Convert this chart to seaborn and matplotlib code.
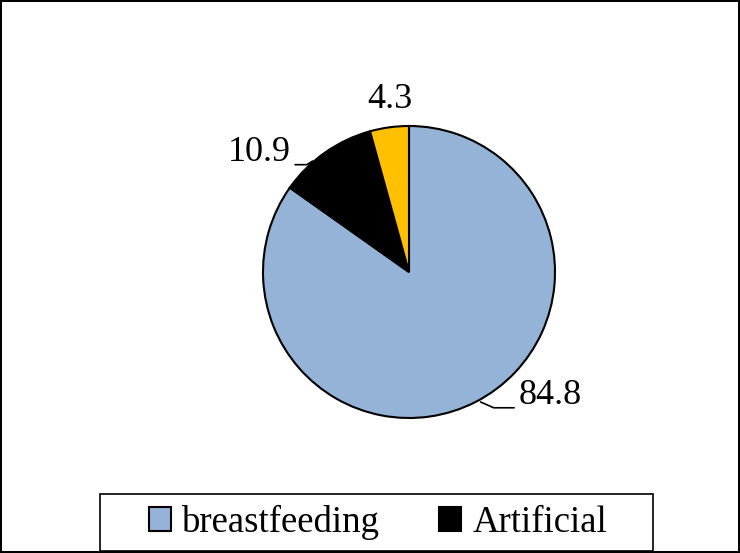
import numpy as np
import matplotlib.pyplot as plt
import matplotlib.patches as mpatches
import seaborn as sns

# data
labels = ["breastfeeding", "Artificial", "Mixed"]
values = [84.8, 10.9, 4.3]
colors = ["#95B3D7", "#000000", "#FFC000"]

sns.set_style("white")
plt.rcParams['font.family'] = ['Liberation Serif', 'DejaVu Serif']
plt.rcParams['text.color'] = 'black'

W, H = 740, 553
fig = plt.figure(figsize=(W / 100, H / 100), dpi=100)
fig.patch.set_edgecolor("black")
fig.patch.set_linewidth(1.5)
ax = fig.add_axes([0, 0, 1, 1])

wedges, _ = ax.pie(values, colors=colors, startangle=90, counterclock=False,
                   radius=1.0, center=(0, 0),
                   wedgeprops=dict(edgecolor="black", linewidth=1.5))

# axis range so that the pie sits where it does in the original (146 px per unit)
scale = 146.0
cx, cy = 409, 272
ax.set_aspect("auto")
ax.set_xlim(-cx / scale, (W - cx) / scale)
ax.set_ylim(-(H - cy) / scale, cy / scale)
ax.axis("off")

fs = 26
# 84.8 with leader line
ax.plot([0.49, 0.58, 0.72], [-0.89, -0.93, -0.93], color="black", lw=1.2)
ax.text(0.75, -0.845, f"{values[0]:.1f}", fontsize=fs, ha="left", va="center")
# 10.9 with short leader
ax.plot([-0.78, -0.70, -0.66], [0.735, 0.735, 0.76], color="black", lw=1.2)
ax.text(-0.81, 0.82, f"{values[1]:.1f}", fontsize=fs, ha="right", va="center")
# 4.3
ax.text(-0.13, 1.18, f"{values[2]:.1f}", fontsize=fs, ha="center", va="center")

# legend box (drawn separately to get the wide padding of the original)
bx0, by0, bx1, by1 = 100, 494, 653, 551
fig.patches.append(mpatches.Rectangle((bx0 / W, 1 - by1 / H), (bx1 - bx0) / W, (by1 - by0) / H,
                                      transform=fig.transFigure, facecolor="white",
                                      edgecolor="black", linewidth=1.2, zorder=1))
handles = [mpatches.Patch(facecolor=colors[i], edgecolor="black", linewidth=1.5, label=labels[i])
           for i in range(2)]
leg = fig.legend(handles=handles, loc="center",
                 bbox_to_anchor=((bx0 + bx1) / 2 / W + 0.002, 1 - (by0 + by1) / 2 / H),
                 ncol=2, fontsize=26.5, frameon=False,
                 handlelength=0.6, handleheight=0.6, handletextpad=0.3, columnspacing=1.6,
                 borderpad=0.2, borderaxespad=0)
leg.set_zorder(2)

fig.savefig("out.png", dpi=100)
